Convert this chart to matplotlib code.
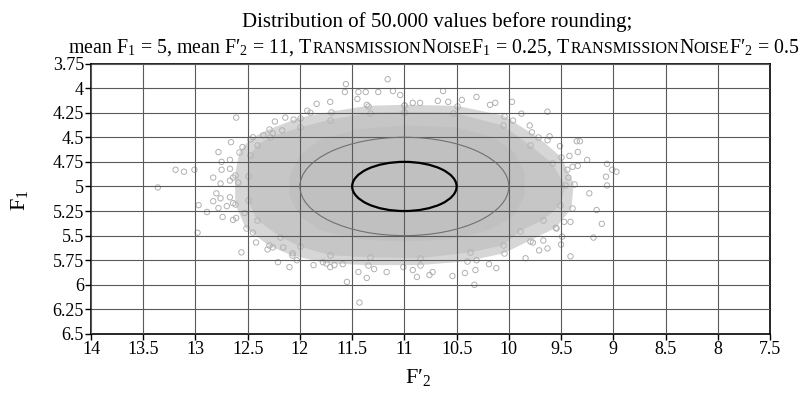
import matplotlib
matplotlib.use("Agg")
import matplotlib.pyplot as plt
from matplotlib.patches import Ellipse

plt.rcParams["font.family"] = ["Liberation Serif", "DejaVu Serif"]
plt.rcParams["mathtext.fontset"] = "stix"

# distribution parameters (from the title)
mean_f1 = 5
mean_f2 = 11
noise_f1 = 0.25
noise_f2 = 0.5

# solid (saturated) core of the cloud
core_x = [11.0, 10.5, 10.15, 9.95, 9.85, 9.85, 9.95, 10.2, 10.6, 11.0, 11.4, 11.8,
          12.0, 12.1, 12.1, 12.0, 11.8, 11.45]
core_y = [4.38, 4.40, 4.50, 4.65, 4.85, 5.10, 5.30, 5.45, 5.54, 5.56, 5.54, 5.45,
          5.30, 5.10, 4.90, 4.68, 4.52, 4.42]

# edge of the dense (overlapping circles) zone
band_x = [11.00, 10.53, 10.06, 9.80, 9.59, 9.46, 9.51, 9.67, 9.89, 10.06, 10.37, 10.85,
          11.33, 11.71, 12.00, 12.19, 12.41, 12.50, 12.50, 12.48, 12.41, 12.29, 12.00,
          11.71, 11.33]
band_y = [4.24, 4.25, 4.38, 4.58, 4.76, 4.99, 5.19, 5.34, 5.45, 5.60, 5.67, 5.73,
          5.72, 5.70, 5.61, 5.51, 5.34, 5.14, 4.89, 4.68, 4.58, 4.50, 4.40, 4.32, 4.25]

# where the circles start to stand apart
halo_x = [11.00, 10.50, 10.05, 9.72, 9.50, 9.38, 9.40, 9.55, 9.80, 10.05, 10.40, 10.85,
          11.35, 11.75, 12.08, 12.30, 12.52, 12.62, 12.62, 12.58, 12.48, 12.30, 12.00,
          11.70, 11.35]
halo_y = [4.17, 4.18, 4.28, 4.50, 4.70, 4.97, 5.22, 5.42, 5.55, 5.68, 5.76, 5.80,
          5.80, 5.78, 5.70, 5.60, 5.42, 5.18, 4.88, 4.65, 4.52, 4.42, 4.30, 4.24, 4.18]

# single values visible outside the dense zone
spread_x = [12.61, 12.24, 12.14, 12.06, 12.66, 12.78, 12.55, 12.45, 12.75, 12.67,
            13.19, 13.11, 13.01, 12.83, 12.75, 12.67, 12.64, 13.36, 12.76, 12.67,
            12.59, 12.80, 12.76, 12.67, 12.64, 12.97, 12.89, 12.78, 12.70, 12.74,
            12.64, 12.53, 12.98, 12.83, 12.61, 12.45, 12.56, 12.42, 12.31, 12.21,
            12.10, 12.26, 12.16, 12.07, 12.03, 11.87, 11.78, 11.71, 11.67, 11.59,
            11.55, 11.44, 11.36, 11.43, 11.56, 11.57, 11.44, 11.37, 11.25, 11.45,
            11.36, 11.71, 11.84, 11.93, 11.90, 12.35, 12.26, 12.17, 11.16, 11.11,
            11.04, 10.63, 10.31, 10.68, 10.58, 10.85, 10.92, 10.45, 10.18, 10.13,
            9.97, 9.63, 9.88, 9.96, 9.80, 9.78, 9.61, 9.63, 9.51, 9.35,
            9.32, 9.34, 9.42, 9.25, 9.39, 9.34, 9.06, 9.01, 8.97, 9.07,
            9.06, 9.23, 9.44, 9.43, 9.16, 9.11, 9.19, 9.41, 9.49, 9.50,
            9.63, 9.71, 9.84, 9.55, 9.47, 9.41, 9.77, 9.67, 10.12, 10.19,
            10.33, 10.42, 10.32, 10.31, 10.54, 10.76, 10.73, 10.88, 11.17, 11.29,
            11.01, 10.92]
spread_y = [4.30, 4.34, 4.30, 4.32, 4.55, 4.65, 4.60, 4.50, 4.75, 4.73,
            4.83, 4.85, 4.83, 4.91, 4.83, 4.82, 4.91, 5.01, 4.97, 4.94,
            4.96, 5.07, 5.12, 5.11, 5.17, 5.19, 5.26, 5.22, 5.20, 5.31,
            5.34, 5.27, 5.47, 5.15, 5.32, 5.47, 5.67, 5.57, 5.64, 5.77,
            5.82, 5.62, 5.62, 5.68, 5.75, 5.80, 5.77, 5.82, 5.80, 5.79,
            5.97, 5.87, 5.93, 6.18, 3.96, 4.04, 4.04, 4.04, 4.04, 4.11,
            4.17, 4.14, 4.16, 4.23, 4.25, 4.48, 4.46, 4.43, 3.91, 4.03,
            4.07, 4.03, 4.09, 4.13, 4.14, 4.15, 4.15, 4.12, 4.17, 4.15,
            4.14, 4.24, 4.26, 4.33, 4.38, 4.45, 4.49, 4.53, 4.59, 4.54,
            4.54, 4.65, 4.69, 4.73, 4.80, 4.79, 4.77, 4.83, 4.85, 4.90,
            4.99, 5.07, 4.83, 4.91, 5.24, 5.38, 5.52, 5.71, 5.51, 5.59,
            5.63, 5.65, 5.73, 5.42, 5.36, 5.36, 5.57, 5.55, 5.83, 5.79,
            6.00, 5.88, 5.85, 5.75, 5.91, 5.90, 5.87, 5.92, 5.87, 5.84,
            5.82, 5.85]

x_ticks = [14, 13.5, 13, 12.5, 12, 11.5, 11, 10.5, 10, 9.5, 9, 8.5, 8, 7.5]
x_labels = ["14", "13.5", "13", "12.5", "12", "11.5", "11", "10.5", "10", "9.5", "9",
            "8.5", "8", "7.5"]
y_ticks = [3.75, 4, 4.25, 4.5, 4.75, 5, 5.25, 5.5, 5.75, 6, 6.25, 6.5]
y_labels = ["3.75", "4", "4.25", "4.5", "4.75", "5", "5.25", "5.5", "5.75", "6", "6.25",
            "6.5"]

W, H = 805, 397
fig = plt.figure(figsize=(W / 100, H / 100), dpi=100)
ax = fig.add_axes([91 / W, 1 - 334 / H, (770 - 91) / W, (334 - 63.5) / H])

ax.fill(halo_x, halo_y, color="#d6d6d6", lw=0, zorder=1)
ax.fill(band_x, band_y, color="#c6c6c6", lw=0, zorder=1.05)
ax.fill(core_x, core_y, color="#c0c0c0", lw=0, zorder=1.1)
ax.plot(halo_x + halo_x[:1], halo_y + halo_y[:1], "o", ms=4, mfc="none",
        mec="#b4b4b4", mew=0.7, zorder=1.15)
ax.plot(band_x + band_x[:1], band_y + band_y[:1], "o", ms=4, mfc="none",
        mec="#b4b4b4", mew=0.7, zorder=1.15)
ax.scatter(spread_x, spread_y, s=15, facecolors="none", edgecolors="#b0b0b0",
           linewidths=0.7, zorder=1.2)

ax.add_patch(Ellipse((mean_f2, mean_f1), 4 * noise_f2, 4 * noise_f1, fill=False,
                     ec="#707070", lw=0.8, zorder=3))
ax.add_patch(Ellipse((mean_f2, mean_f1), 2 * noise_f2, 2 * noise_f1, fill=False,
                     ec="black", lw=1.6, zorder=3))

ax.set_xlim(14, 7.5)
ax.set_ylim(6.5, 3.75)
ax.set_xticks(x_ticks)
ax.set_xticklabels(x_labels)
ax.set_yticks(y_ticks)
ax.set_yticklabels(y_labels)
ax.set_axisbelow(False)
ax.grid(True, color="#5a5a5a", lw=0.8)
ax.tick_params(labelsize=13, length=4, width=1, direction="out", pad=1)
for s in ax.spines.values():
    s.set_linewidth(1.2)

fig.text(20 / W, 1 - 200 / H, r"F$_\mathregular{1}$", rotation=90, ha="center",
         va="center", fontsize=16)
fig.text(418 / W, 1 - 383 / H, "F\u2032$_\\mathregular{2}$", ha="center", va="baseline",
         fontsize=16)

fig.text(437 / W, 1 - 27 / H, "Distribution of 50.000 values before rounding;",
         ha="center", va="baseline", fontsize=15)

# second title line with small caps pieces
big, small = 14.3, 11.5
pieces = [("mean F$_\\mathregular{1}$ = 5, mean F\u2032$_\\mathregular{2}$ = 11, T", big),
          ("RANSMISSION", small), ("N", big), ("OISE", small),
          ("F$_\\mathregular{1}$ = 0.25, T", big),
          ("RANSMISSION", small), ("N", big), ("OISE", small),
          ("F\u2032$_\\mathregular{2}$ = 0.5", big)]
texts = [fig.text(0, 1 - 53 / H, t, fontsize=fs, ha="left", va="baseline")
         for t, fs in pieces]
fig.canvas.draw()
r = fig.canvas.get_renderer()
widths = [t.get_window_extent(r).width for t in texts]
x = 434 - sum(widths) / 2
for t, w in zip(texts, widths):
    t.set_x(x / W)
    x += w

fig.savefig("out.png", dpi=100)
